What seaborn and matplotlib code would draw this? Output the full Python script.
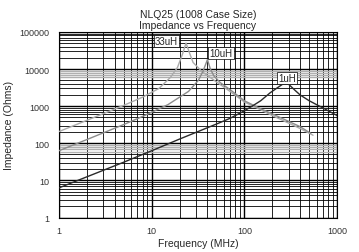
import numpy as np
import pandas as pd
import matplotlib
matplotlib.use("Agg")
import matplotlib.pyplot as plt
import seaborn as sns
from matplotlib.ticker import FixedLocator, NullFormatter, FuncFormatter, LogLocator

# ---- data ----
f_33 = [1, 2, 5, 8, 12, 16, 19, 21.5, 23.5, 25.5, 28, 35, 50, 70, 100, 150, 200, 300, 400, 550]
z_33 = [207, 415, 1050, 1750, 3000, 6000, 11000, 25000, 50000, 28000, 15000, 8500, 4500, 2500, 1300, 800, 560, 350, 250, 165]

f_10 = [1, 2, 5, 8, 15, 25, 32, 36, 40, 43, 47, 55, 70, 100, 150, 200, 300, 400, 520]
z_10 = [63, 126, 320, 530, 1100, 2500, 5000, 9000, 18000, 10000, 6500, 4300, 2800, 1400, 850, 620, 390, 280, 185]

f_1 = [1, 2, 5, 10, 20, 50, 70, 100, 125, 150, 190, 230, 270, 300, 350, 400, 500, 700, 1000]
z_1 = [6.3, 12.5, 31, 63, 130, 330, 470, 750, 1050, 1400, 2300, 3200, 4200, 3900, 2700, 2000, 1400, 900, 560]

series_names = ["33uH", "10uH", "1uH"]
series_colors = ["#ababab", "#8c8c8c", "#2a2a2a"]
label_pos = {"33uH": (14.5, 58000), "10uH": (56, 27000), "1uH": (290, 5600)}

x_ticks = [1, 10, 100, 1000]
y_ticks = [1, 10, 100, 1000, 10000, 100000]

df = pd.concat([
    pd.DataFrame({"Frequency": f_33, "Impedance": z_33, "Inductance": "33uH"}),
    pd.DataFrame({"Frequency": f_10, "Impedance": z_10, "Inductance": "10uH"}),
    pd.DataFrame({"Frequency": f_1, "Impedance": z_1, "Inductance": "1uH"}),
])

sns.set_style("white")
plt.rcParams["font.family"] = ["Liberation Sans", "DejaVu Sans"]

fig = plt.figure(figsize=(3.59, 2.53), dpi=100)
ax = fig.add_axes([0.164, 0.136, 0.775, 0.734])

ax.set_xscale("log")
ax.set_yscale("log")
ax.set_xlim(1, 1000)
ax.set_ylim(1, 100000)

# grid
ax.xaxis.set_minor_locator(LogLocator(base=10, subs=np.arange(2, 10)))
ax.yaxis.set_minor_locator(LogLocator(base=10, subs=np.arange(2, 10)))
ax.grid(which="major", color="black", lw=1.0)
ax.grid(which="minor", color="black", lw=0.6)
# gray bands of lines just below some decades
for dec in [10, 1000]:
    for m in [6, 7, 8, 9]:
        ax.axhline(dec * m, color="#b0b0b0", lw=1.0, zorder=0.6)
ax.set_axisbelow(True)

sns.lineplot(data=df, x="Frequency", y="Impedance", hue="Inductance",
             hue_order=series_names, palette=series_colors, lw=1.0,
             legend=False, ax=ax, sort=False, zorder=3)

for name in series_names:
    x, y = label_pos[name]
    ax.text(x, y, name, fontsize=7, ha="center", va="center", zorder=4,
            bbox=dict(boxstyle="square,pad=0.1", fc="white", ec="black", lw=0.5))

ax.xaxis.set_major_locator(FixedLocator(x_ticks))
ax.yaxis.set_major_locator(FixedLocator(y_ticks))
ax.xaxis.set_minor_formatter(NullFormatter())
ax.yaxis.set_minor_formatter(NullFormatter())
fmt = FuncFormatter(lambda v, p: f"{int(round(v))}")
ax.xaxis.set_major_formatter(fmt)
ax.yaxis.set_major_formatter(fmt)
ax.tick_params(which="both", length=0, labelsize=6.5, colors="#333333")
ax.tick_params(axis="x", pad=6)
ax.tick_params(axis="y", pad=7)

for s in ax.spines.values():
    s.set_color("black")
    s.set_linewidth(0.8)

ax.set_xlabel("Frequency (MHz)", fontsize=7.5, labelpad=2)
ax.set_ylabel("Impedance (Ohms)", fontsize=7.5, labelpad=4)
ax.set_title("NLQ25 (1008 Case Size)\nImpedance vs Frequency", fontsize=7.5, pad=3, linespacing=1.1)

fig.savefig("out.png", dpi=100)
